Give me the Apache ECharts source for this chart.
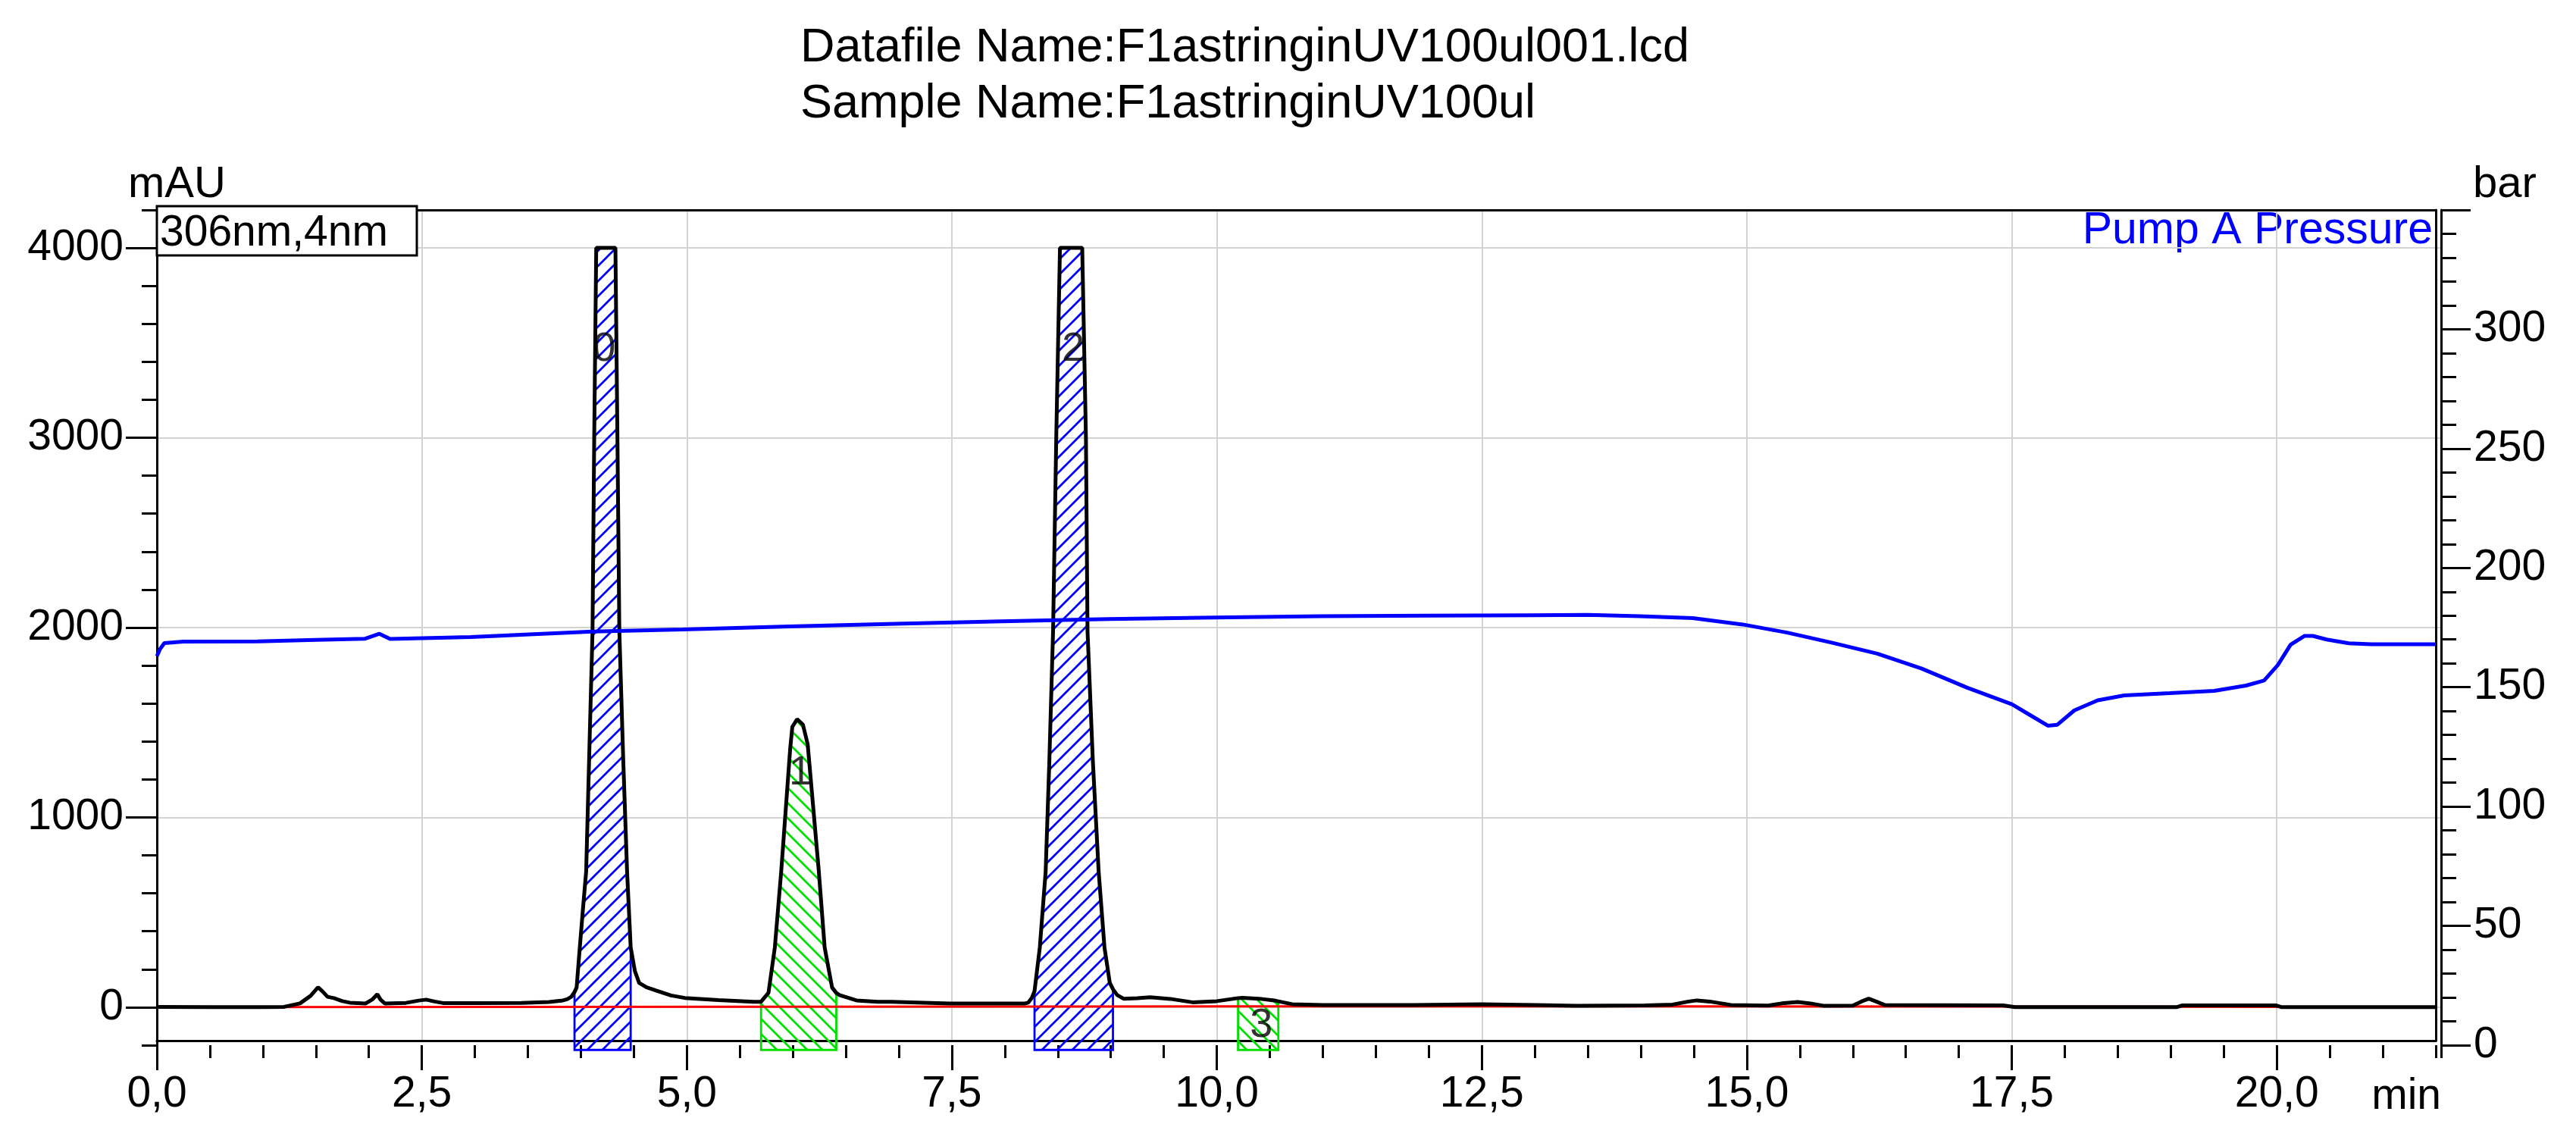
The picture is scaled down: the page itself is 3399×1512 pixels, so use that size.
<!DOCTYPE html>
<html><head><meta charset="utf-8">
<script src="https://cdn.jsdelivr.net/npm/echarts@6/dist/echarts.min.js"></script>
<style>html,body{margin:0;padding:0;background:#fff}#c{width:3399px;height:1512px}</style>
</head><body><div id="c"></div>
<script>
// ---- data ----
const chromTime = [0.00,0.50,1.00,1.20,1.35,1.45,1.52,1.56,1.61,1.67,1.75,1.82,1.97,2.03,2.08,2.11,2.15,2.35,2.47,2.54,2.62,2.70,3.00,3.44,3.70,3.83,3.87,3.91,3.94,3.96,3.99,4.02,4.05,4.08,4.11,4.126,4.145,4.326,4.345,4.363,4.40,4.436,4.47,4.51,4.55,4.62,4.71,4.85,4.98,5.30,5.63,5.70,5.77,5.83,5.89,5.975,5.995,6.04,6.095,6.14,6.245,6.30,6.37,6.41,6.44,6.60,6.80,6.93,7.48,8.19,8.22,8.255,8.28,8.33,8.385,8.42,8.455,8.485,8.52,8.73,8.765,8.78,8.83,8.885,8.94,8.99,9.02,9.06,9.12,9.25,9.37,9.56,9.77,10.00,10.20,10.24,10.40,10.54,10.58,10.71,11.00,11.85,12.50,13.00,13.39,14.04,14.30,14.45,14.53,14.65,14.85,15.20,15.35,15.48,15.60,15.72,16.00,16.08,16.15,16.22,16.30,17.42,17.53,19.06,19.11,19.99,20.04,21.50];
const chromAbs  = [2,1,1,2,20,60,105,85,55,48,32,24,20,40,68,40,20,23,35,40,30,22,22,23,28,36,42,55,80,104,315,520,715,1350,1982,3000,4000,4000,3000,1982,1300,715,315,190,128,105,88,62,49,38,29,29,76,315,715,1363,1477,1517,1489,1385,715,315,104,75,64,36,29,29,20,20,24,50,85,315,715,1300,1982,3000,4000,4000,3000,1982,1300,715,315,129,95,64,45,48,53,44,26,32,48,50,45,36,31,16,12,12,16,12,8,10,14,30,36,30,12,9,22,28,20,8,9,30,45,30,12,10,1,1,10,10,1,1];

const baseTime = [0.71,5.70,8.22,10.20,14.00,17.45,20.26];
const baseAbs  = [1,3,4,5,5,4,2];

const presTime = [0.00,0.03,0.07,0.25,0.95,1.50,1.96,2.10,2.20,2.96,4.11,4.96,5.97,6.97,7.97,8.98,9.98,10.98,11.99,12.99,13.50,13.99,14.49,14.96,15.38,15.80,16.23,16.65,17.08,17.50,17.67,17.84,17.93,18.09,18.31,18.56,18.99,19.41,19.71,19.88,20.01,20.13,20.26,20.34,20.47,20.68,20.89,21.50];
const presBar  = [163,166,168.5,169.1,169.2,169.8,170.3,172.4,170.2,171,173.3,174.2,175.5,176.6,177.6,178.6,179.2,179.8,180.0,180.2,180.3,179.8,179.0,176.3,172.9,168.7,164.1,157.8,149.8,142.9,138.4,133.9,134.3,140.3,144.5,146.6,147.5,148.5,150.7,152.8,159.3,167.8,171.5,171.5,170.0,168.4,168.0,168.0];

const peakStart = [3.94,5.70,8.28,10.20];
const peakEnd   = [4.47,6.41,9.02,10.58];
const peakLabel = ['0','1','2','3'];
const peakLabelTime = [4.22,6.07,8.645,10.42];
const peakLabelAbs  = [3465,1233,3465,-97];
const hatchBottom = -225;

const xMajorTicks = [0,2.5,5,7.5,10,12.5,15,17.5,20];
const yMajorTicks = [0,1000,2000,3000,4000];
const yMinorTicks = [-200,200,400,600,800,1200,1400,1600,1800,2200,2400,2600,2800,3200,3400,3600,3800,4200];

const titleLines = ['Datafile Name:F1astringinUV100ul001.lcd','Sample Name:F1astringinUV100ul'];

// ---- styles ----
const FONT = "'Liberation Sans', Arial, sans-serif";
const hatchColors = ['#0000ff','#00e000','#0000ff','#00e000'];
function hatch(color, forward){
  const c = document.createElement('canvas'); c.width = 20; c.height = 20;
  const g = c.getContext('2d'); g.strokeStyle = color; g.lineWidth = 2.8; g.beginPath();
  if (forward){ g.moveTo(-2,22); g.lineTo(22,-2); g.moveTo(-12,12); g.lineTo(12,-12); g.moveTo(8,32); g.lineTo(32,8); }
  else { g.moveTo(-2,-2); g.lineTo(22,22); g.moveTo(-12,8); g.lineTo(12,32); g.moveTo(8,-12); g.lineTo(32,12); }
  g.stroke(); return c;
}
const hatchImgs = [hatch('#0000ff',true), hatch('#00e000',false), hatch('#0000ff',true), hatch('#00e000',false)];

const zip = (a,b)=>a.map((v,i)=>[v,b[i]]);
const fmtX = v => Number(v).toFixed(1).replace('.', ',');
const black = {color:'#000', width:3};

const chart = echarts.init(document.getElementById('c'), null, {renderer:'canvas'});
const X1MAX = 21.5 * 3014 / 3007;
chart.setOption({
  animation:false,
  backgroundColor:'#fff',
  textStyle:{fontFamily:FONT},
  grid:[
    {left:207, top:277, width:3007, height:1096, containLabel:false, outerBoundsMode:'none'},
    {left:207, top:277, width:3014, height:1102, containLabel:false, outerBoundsMode:'none'}
  ],
  xAxis:[
    {type:'value', gridIndex:0, position:'bottom', min:0, max:21.5, interval:2.5,
     axisLine:{show:true, onZero:false, lineStyle:black}, axisTick:{show:false}, axisLabel:{show:false},
     splitLine:{show:true, lineStyle:{color:'#d3d3d3', width:2}}},
    {type:'value', gridIndex:0, position:'top', min:0, max:21.5,
     axisLine:{show:true, onZero:false, lineStyle:black}, axisTick:{show:false}, axisLabel:{show:false}, splitLine:{show:false}},
    {type:'value', gridIndex:1, position:'bottom', min:0, max:X1MAX, interval:0.5,
     axisLine:{show:false, onZero:false}, axisTick:{show:true, length:17, lineStyle:black}, axisLabel:{show:false}, splitLine:{show:false}},
    {type:'value', gridIndex:1, position:'bottom', min:0, max:X1MAX,
     axisLine:{show:false, onZero:false}, axisTick:{show:true, length:33, lineStyle:black, customValues:xMajorTicks},
     axisLabel:{show:true, customValues:xMajorTicks, formatter:fmtX, fontSize:57, color:'#000', fontFamily:FONT, margin:37},
     splitLine:{show:false}}
  ],
  yAxis:[
    {type:'value', gridIndex:1, position:'left', min:-200, max:4200,
     axisLine:{show:true, onZero:false, lineStyle:black},
     axisTick:{show:true, length:41, lineStyle:black, customValues:yMajorTicks},
     axisLabel:{show:true, customValues:yMajorTicks, formatter:v => String(v), fontSize:57, color:'#000', fontFamily:FONT, margin:44},
     splitLine:{show:true, lineStyle:{color:'#d3d3d3', width:2}}},
    {type:'value', gridIndex:1, position:'left', min:-200, max:4200,
     axisLine:{show:false, onZero:false}, axisTick:{show:true, length:20, lineStyle:black, customValues:yMinorTicks},
     axisLabel:{show:false}, splitLine:{show:false}},
    {type:'value', gridIndex:1, position:'right', min:0, max:350, interval:50,
     axisLine:{show:true, onZero:false, lineStyle:black}, axisTick:{show:true, length:39, lineStyle:black},
     axisLabel:{show:true, fontSize:57, color:'#000', fontFamily:FONT, margin:43, formatter:v => v >= 350 ? '' : String(v)},
     splitLine:{show:false}},
    {type:'value', gridIndex:1, position:'right', min:0, max:350, interval:10,
     axisLine:{show:false, onZero:false}, axisTick:{show:true, length:20, lineStyle:black}, axisLabel:{show:false}, splitLine:{show:false}},
    {type:'value', gridIndex:0, position:'right', min:0, max:1,
     axisLine:{show:true, onZero:false, lineStyle:black}, axisTick:{show:false}, axisLabel:{show:false}, splitLine:{show:false}}
  ],
  series:[
    {type:'custom', name:'peaks', xAxisIndex:2, yAxisIndex:0, clip:false, z:2,
     data: peakStart.map((s,k)=>[s, 0, k]),
     renderItem:function(params, api){
       const k = api.value(2);
       const s = peakStart[k], e = peakEnd[k];
       const pts = [api.coord([s, hatchBottom])];
       for (let i=0;i<chromTime.length;i++){
         if (chromTime[i] >= s-1e-9 && chromTime[i] <= e+1e-9) pts.push(api.coord([chromTime[i], chromAbs[i]]));
       }
       pts.push(api.coord([e, hatchBottom]));
       return {type:'polygon', shape:{points:pts},
               style:{fill:{image:hatchImgs[k], repeat:'repeat'}, stroke:hatchColors[k], lineWidth:2.8}};
     }},
    {type:'line', name:'baseline', xAxisIndex:2, yAxisIndex:0, data:zip(baseTime, baseAbs),
     showSymbol:false, symbol:'none', lineStyle:{color:'#ff0000', width:3}, z:3},
    {type:'line', name:'306nm,4nm', xAxisIndex:2, yAxisIndex:0, data:zip(chromTime, chromAbs),
     showSymbol:false, symbol:'none', lineStyle:{color:'#000', width:5}, z:4},
    {type:'line', name:'Pump A Pressure', xAxisIndex:2, yAxisIndex:2, data:zip(presTime, presBar),
     showSymbol:false, symbol:'none', lineStyle:{color:'#0000ff', width:5}, z:5},
    {type:'scatter', name:'labels', xAxisIndex:2, yAxisIndex:0, symbolSize:1, itemStyle:{color:'rgba(0,0,0,0)'},
     data: peakLabel.map((n,i)=>({name:n, value:[peakLabelTime[i], peakLabelAbs[i]]})), z:6,
     label:{show:true, position:'inside', formatter:'{b}', fontSize:54, color:'#000', fontFamily:FONT}}
  ],
  graphic:[
    {type:'text', x:1056, y:64, style:{text:titleLines[0], fontSize:63, fontFamily:FONT, fill:'#000', verticalAlign:'middle'}},
    {type:'text', x:1056, y:138, style:{text:titleLines[1], fontSize:63, fontFamily:FONT, fill:'#000', verticalAlign:'middle'}},
    {type:'text', x:169, y:244, style:{text:'mAU', fontSize:58, fontFamily:FONT, fill:'#000', verticalAlign:'middle'}},
    {type:'text', x:3263, y:244, style:{text:'bar', fontSize:58, fontFamily:FONT, fill:'#000', verticalAlign:'middle'}},
    {type:'text', x:3210, y:305, style:{text:'Pump A Pressure', fontSize:59, fontFamily:FONT, fill:'#0000ff', align:'right', verticalAlign:'middle'}},
    {type:'rect', shape:{x:207, y:272, width:343, height:65}, style:{fill:'#fff', stroke:'#000', lineWidth:3}, z:50},
    {type:'text', x:211, y:308, style:{text:'306nm,4nm', fontSize:57, fontFamily:FONT, fill:'#000', verticalAlign:'middle'}, z:51},
    {type:'text', x:3221, y:1447, style:{text:'min', fontSize:57, fontFamily:FONT, fill:'#000', align:'right', verticalAlign:'middle'}}
  ]
});
</script></body></html>
